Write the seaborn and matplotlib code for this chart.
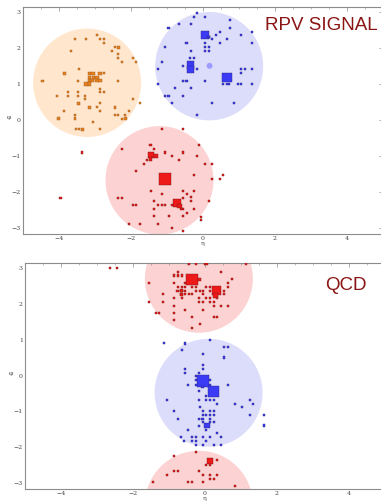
import numpy as np
import pandas as pd
import matplotlib
matplotlib.use("Agg")
import matplotlib.pyplot as plt
from matplotlib.patches import Circle
from matplotlib.ticker import MultipleLocator
import seaborn as sns

sns.set_theme(style="white")
plt.rcParams['font.family'] = ['DejaVu Serif']

# ---------------- data: RPV signal ----------------
jet_R = 1.5
sig_jet_eta = [-3.21, 0.18, -1.20]
sig_jet_phi = [1.03, 1.49, -1.67]
sig_jet_name = ["orange", "blue", "red"]
sig_axis_eta = [0.19]
sig_axis_phi = [1.50]

sig_orange_eta = [-4.45, -4.0, -4.05, -3.85, -3.85, -3.74, -3.74, -3.65, -3.55, -3.55, -3.55, -3.53,
                  -3.44, -3.46, -3.46, -3.46, -3.44, -3.44, -3.35, -3.24, -3.26, -3.26, -3.24, -3.14,
                  -3.14, -3.14, -3.14, -3.14, -3.05, -3.03, -3.05, -3.05, -2.94, -2.94, -2.94, -2.94,
                  -2.85, -2.85, -2.85, -2.85, -2.85, -2.85, -2.85, -2.85, -2.73, -2.73, -2.73, -2.73,
                  -2.53, -2.44, -2.44, -2.34, -2.34, -2.34, -2.34, -2.44, -2.34, -2.25, -2.25, -2.16,
                  -2.14, -2.05, -1.93, -1.93, -1.84, -1.73]
sig_orange_phi = [1.09, 0.04, 0.66, 1.29, 0.26, 0.77, 0.66, 1.92, 2.23, 0.15, 0.04, -0.26,
                  1.40, 1.09, 0.77, 0.66, 0.46, -0.26, -0.26, 2.23, 0.66, 0.57, 1.00, 1.29,
                  1.18, 1.09, 1.00, 0.35, 1.29, 1.18, 1.09, -0.06, 1.18, 1.09, 2.34, 0.35,
                  2.23, 1.09, 1.29, 0.87, 0.78, 0.46, 0.26, -0.26, 2.23, 2.12, 1.29, 0.78,
                  1.92, 0.35, 2.01, 2.01, 1.83, 1.72, 1.09, 0.15, 0.15, 1.61, 0.04, 0.15,
                  0.04, 0.26, 1.72, 0.57, 1.61, 0.46]
sig_orange_pt = [1, 3, 1, 3, 1, 1, 1, 1, 1, 1, 2, 1,
                 1, 1, 2, 1, 3, 1, 3, 1, 1, 1, 4, 2,
                 4, 4, 4, 2, 4, 4, 3, 1, 4, 4, 1, 1,
                 1, 4, 4, 1, 1, 1, 1, 1, 1, 1, 1, 1,
                 1, 2, 1, 2, 1, 1, 1, 1, 1, 1, 1, 1,
                 3, 1, 1, 1, 1, 1]

sig_blue_eta = [0.07, -0.34, -0.34, 0.67,
                -0.15, -0.24, 0.06, -0.65, -0.33, 0.76, 0.76, -0.95, 1.36, 0.47, 0.37, 1.06,
                0.67, 0.26, 0.06, 0.47, -0.45, 0.06, 0.17, -1.04, 1.36, 0.06, 0.17, -0.33,
                -0.35, -0.24, -1.13, -0.54, -0.15, -1.25, 1.06, 1.17, 1.36, 1.06, -0.54, -0.45,
                0.06, -1.25, 0.74, 0.97, 1.06, 1.36, -0.76, -0.33, -1.04, -0.95, -0.54, -0.84,
                0.26, 0.87, -0.15, 0.56, 0.67, 0.16, 0.17]
sig_blue_phi = [2.35, 1.52, 1.40, 1.18,
                2.97, 2.86, 2.86, 2.66, 2.66, 2.77, 2.55, 2.55, 2.44, 2.44, 2.35, 2.35,
                2.23, 2.23, 2.12, 2.12, 2.12, 2.01, 2.01, 2.01, 2.12, 1.92, 1.92, 1.92,
                1.72, 1.72, 1.61, 1.50, 1.40, 1.40, 1.40, 1.40, 1.40, 1.29, 1.09, 1.09,
                1.09, 1.00, 1.00, 1.00, 1.00, 1.00, 0.89, 0.89, 0.66, 0.66, 0.66, 0.46,
                0.46, 0.46, 0.15, 1.00, 1.00, 2.30, 2.30]
sig_blue_pt = [25, 25, 25, 40,
               1, 1, 1, 1, 1, 1, 1, 1, 1, 1, 1, 1,
               1, 1, 1, 1, 1, 1, 1, 1, 1, 1, 1, 1,
               1, 1, 1, 1, 1, 1, 1, 1, 1, 1, 1, 1,
               1, 1, 1, 1, 1, 1, 1, 1, 1, 1, 1, 1,
               1, 1, 1, 1, 1, 2, 2]

sig_red_eta = [-1.04, -0.71, -0.65, -1.43, -1.30, -1.45,
               -1.13, -0.54, -2.25, -1.45, -1.34, -0.09, -1.64, -1.54, -1.04, -0.84, -0.54, -0.15,
               -0.65, 0.06, 0.26, -1.84, -0.24, 0.26, 0.47, 0.56, -1.43, -1.13, -0.54, -0.24,
               -0.43, -0.33, -0.33, -2.34, -2.25, -1.93, -1.84, -1.34, -1.25, -1.13, -1.04, -1.34,
               -0.84, -0.54, -0.24, 0.17, -0.43, -0.54, -0.93, -1.34, -0.04, -0.04, -2.05, -1.75,
               -1.25, -0.84, -0.54, -0.56, -3.35, -3.95, -0.60]
sig_red_phi = [-1.64, -2.29, -2.38, -0.98, -1.00, -1.08,
               -0.26, -0.26, -0.79, -0.70, -0.79, -0.70, -1.22, -1.11, -0.90, -1.00, -0.90, -1.00,
               -1.11, -1.22, -1.22, -1.42, -1.51, -1.63, -1.63, -1.51, -1.96, -2.05, -1.96, -1.96,
               -2.05, -2.14, -2.25, -2.16, -2.16, -2.36, -2.36, -2.25, -2.36, -2.36, -2.36, -2.46,
               -2.36, -2.46, -2.46, -2.25, -2.57, -2.66, -2.66, -2.66, -2.68, -2.77, -2.88, -2.88,
               -2.88, -2.99, -3.08, -2.16, -0.90, -2.16, -2.46]
sig_red_pt = [60, 30, 8, 14, 6, 4,
              1, 1, 1, 1, 1, 1, 1, 1, 1, 1, 1, 1,
              1, 1, 1, 1, 1, 1, 1, 1, 1, 1, 1, 1,
              1, 1, 1, 1, 1, 1, 1, 1, 1, 1, 1, 1,
              1, 1, 1, 1, 1, 1, 1, 1, 1, 1, 1, 1,
              1, 1, 1, 1, 1, 1, 2]

# ---------------- data: QCD ----------------
qcd_jet_eta = [-0.17, 0.10]
qcd_jet_phi = [2.69, -0.48]
qcd_jet_name = ["red", "blue"]

qcd_red_eta = [-0.37, 0.33, 0.28, 0.13,
               -2.64, -2.45, -0.45, -0.26, 0.00, 0.05, 1.15, -0.76, 0.45, -0.85, -0.76, -0.65,
               0.74, -0.15, -1.56, -0.85, -0.56, 0.65, -0.76, -0.65, -0.56, -0.37, -0.26, 0.04,
               0.13, 0.65, -0.76, -0.65, -0.56, -0.26, -0.15, -0.06, 0.15, 0.54, -1.17, -0.67,
               -0.56, -0.45, -0.35, -0.06, 0.54, -0.85, -0.65, -0.17, 0.04, 0.13, 0.33, -1.56,
               -1.17, -0.17, -0.06, 0.13, 0.24, 0.45, 0.65, -0.85, 0.24, -1.36, -1.27, -0.85,
               -0.56, -0.06, 0.24, 0.33, -0.35, -0.85, -0.15, -0.35, -0.65, -0.65,
               -0.26, -0.85, 0.33, 0.02, 0.13, -0.85, -0.76, -1.06, -0.17, -0.06, 0.15, 0.33,
               0.13, 0.24, -1.45, -0.46, -0.35, -0.06, 0.84]
qcd_red_phi = [2.67, 2.35, 2.22, -2.37,
               2.98, 2.98, 3.09, 3.09, 3.09, 3.09, 3.09, 2.87, 2.87, 2.78, 2.78, 2.78,
               2.67, 2.67, 2.57, 2.57, 2.57, 2.57, 2.46, 2.46, 2.46, 2.46, 2.46, 2.46,
               2.46, 2.46, 2.35, 2.35, 2.35, 2.35, 2.35, 2.35, 2.35, 2.35, 2.26, 2.26,
               2.26, 2.26, 2.26, 2.26, 2.26, 2.15, 2.15, 2.15, 2.15, 2.15, 2.15, 2.05,
               2.05, 2.05, 2.05, 2.05, 2.05, 1.93, 1.93, 1.94, 1.93, 1.74, 1.74, 1.74,
               1.83, 1.83, 1.63, 1.63, 1.63, 1.54, 1.43, 1.31, 2.35, 2.24,
               -2.13, -2.24, -2.35, -2.48, -2.48, -2.65, -2.65, -2.76, -2.65, -2.76, -2.76, -2.76,
               -2.87, -2.87, -2.96, -2.96, -2.96, -2.96, -3.06]
qcd_red_pt = [60, 35, 10, 15,
              1, 1, 1, 1, 1, 1, 1, 1, 1, 1, 1, 1,
              1, 2, 1, 1, 1, 1, 1, 1, 1, 1, 1, 1,
              1, 1, 2, 2, 1, 1, 1, 1, 1, 1, 1, 1,
              1, 1, 1, 1, 1, 1, 1, 1, 1, 1, 1, 1,
              1, 1, 1, 1, 1, 1, 1, 1, 1, 1, 1, 1,
              1, 1, 1, 1, 1, 1, 1, 1, 3, 3,
              1, 1, 1, 1, 1, 1, 1, 1, 1, 1, 1, 1,
              1, 1, 1, 1, 1, 1, 1]

qcd_blue_eta = [-0.06, 0.24, 0.06,
                -1.15, -0.56, 0.13, -0.65, 0.54, 0.65, -0.06, 0.54, -0.06, -0.06, -0.56, -0.56,
                -0.17, -0.26, -0.26, 0.13, -0.46, -0.26, 0.13, 0.65, -0.17, -0.07, 0.04, -0.17,
                0.04, 0.13, 0.24, 0.33, -1.06, 0.84, 1.04, 1.24, 1.34, -0.15, -0.85, -0.06,
                0.13, 0.24, -0.06, 0.04, 0.13, 0.24, 1.24, 1.64, -0.76, -0.17, -0.07, 0.13,
                0.24, -0.06, 0.13, 1.64, -0.17, 0.04, -0.46, 0.33, -0.67, -0.35, -0.26, -0.06,
                0.13, 0.45, -0.35, -0.26, 0.04, -0.58, -0.26, -0.06, 0.24, 0.45]
qcd_blue_phi = [-0.15, -0.44, -1.39,
                0.91, 0.89, 1.00, 0.70, 0.80, 0.80, 0.59, 0.50, 0.28, 0.19, 0.19, 0.07,
                0.07, -0.02, -0.13, -0.13, -0.26, -0.26, -0.26, -0.26, -0.44, -0.33, -0.56, -0.69,
                -0.69, -0.69, -0.69, -0.78, -0.69, -0.78, -0.87, -0.69, -0.78, -0.87, -0.98, -0.98,
                -0.98, -0.98, -1.09, -1.09, -1.09, -1.09, -1.09, -1.09, -1.20, -1.20, -1.20, -1.20,
                -1.30, -1.30, -1.30, -1.39, -1.41, -1.52, -1.52, -1.61, -1.72, -1.72, -1.72, -1.72,
                -1.72, -1.72, -1.81, -1.81, -1.81, -1.81, -1.93, -1.93, -1.93, -1.93]
qcd_blue_pt = [60, 50, 14,
               1, 1, 1, 1, 1, 1, 1, 1, 1, 1, 1, 1,
               1, 1, 1, 1, 1, 1, 1, 1, 1, 1, 1, 1,
               1, 1, 1, 1, 1, 1, 1, 1, 1, 1, 1, 1,
               1, 1, 1, 1, 1, 1, 1, 1, 1, 1, 1, 1,
               1, 1, 1, 1, 1, 1, 1, 1, 1, 1, 1, 1,
               1, 1, 1, 1, 1, 1, 1, 1, 1, 1]

x_ticks = [-4, -2, 0, 2, 4]
y_ticks = [-3, -2, -1, 0, 1, 2, 3]

# ---------------- styles ----------------
fill_circle = {"orange": "#FFE6CC", "blue": "#DCDCFB", "red": "#FCD2D2"}
pt_face = {"orange": "#E8821E", "blue": "#3B3BF5", "red": "#EE1A1A"}
pt_edge = {"orange": "#9A5A20", "blue": "#2A2A80", "red": "#7A1818"}
title_color = "#8B1414"

fig = plt.figure(figsize=(3.81, 5.01), dpi=100)
ax1 = fig.add_axes([22.7 / 381, 1 - 233.5 / 501, 360 / 381, 227 / 501])
ax2 = fig.add_axes([25.0 / 381, 1 - 488.5 / 501, 360 / 381, 226 / 501])


def draw_jets(ax, etas, phis, names):
    for e, p, n in zip(etas, phis, names):
        for shift in (-2 * np.pi, 0, 2 * np.pi):
            ax.add_patch(Circle((e, p + shift), jet_R, facecolor=fill_circle[n],
                                edgecolor="none", zorder=0))


def draw_points(ax, eta, phi, pt, name):
    df = pd.DataFrame({"eta": eta, "phi": phi, "pt": pt})
    sns.scatterplot(data=df, x="eta", y="phi", size="pt", sizes=(2.2, 72), size_norm=(1, 60),
                    marker="s", color=pt_face[name], edgecolor=pt_edge[name], linewidth=0.3,
                    legend=False, ax=ax, zorder=3)


def style_axes(ax):
    ax.set_xlim(-5, 5)
    ax.set_ylim(-np.pi, np.pi)
    ax.set_xticks(x_ticks)
    ax.set_yticks(y_ticks)
    ax.set_xticklabels([str(t).replace("-", "\u2212") for t in x_ticks])
    ax.set_yticklabels([str(t).replace("-", "\u2212") for t in y_ticks])
    ax.xaxis.set_minor_locator(MultipleLocator(0.5))
    ax.yaxis.set_minor_locator(MultipleLocator(0.2))
    ax.tick_params(which="both", direction="in", top=True, right=True, colors="#888888",
                   labelcolor="#444444", labelsize=4.5, pad=1.5)
    ax.tick_params(which="major", length=3, width=0.5)
    ax.tick_params(which="minor", length=1.5, width=0.4)
    for s in ax.spines.values():
        s.set_color("#8c8c8c")
        s.set_linewidth(0.8)
    ax.set_xlabel("\u03b7", fontsize=4.5, labelpad=0.5, color="#444444")
    ax.set_ylabel("\u03c6", fontsize=4.5, labelpad=2, color="#444444", rotation=0)
    ax.set_facecolor("white")


# top: RPV signal
draw_jets(ax1, sig_jet_eta, sig_jet_phi, sig_jet_name)
draw_points(ax1, sig_orange_eta, sig_orange_phi, sig_orange_pt, "orange")
draw_points(ax1, sig_blue_eta, sig_blue_phi, sig_blue_pt, "blue")
draw_points(ax1, sig_red_eta, sig_red_phi, sig_red_pt, "red")
sns.scatterplot(x=sig_axis_eta, y=sig_axis_phi, marker="o", s=18, color="#9C9CFF",
                edgecolor="none", ax=ax1, zorder=2, legend=False)
style_axes(ax1)
ax1.text(4.85, 2.62, "RPV SIGNAL", color=title_color, fontsize=13.5, ha="right", va="center",
         family=["Liberation Sans", "DejaVu Sans"])

# bottom: QCD
draw_jets(ax2, qcd_jet_eta, qcd_jet_phi, qcd_jet_name)
draw_points(ax2, qcd_red_eta, qcd_red_phi, qcd_red_pt, "red")
draw_points(ax2, qcd_blue_eta, qcd_blue_phi, qcd_blue_pt, "blue")
style_axes(ax2)
ax2.text(3.9, 2.5, "QCD", color=title_color, fontsize=13.5, ha="center", va="center",
         family=["Liberation Sans", "DejaVu Sans"])

fig.savefig("out.png", dpi=100)
